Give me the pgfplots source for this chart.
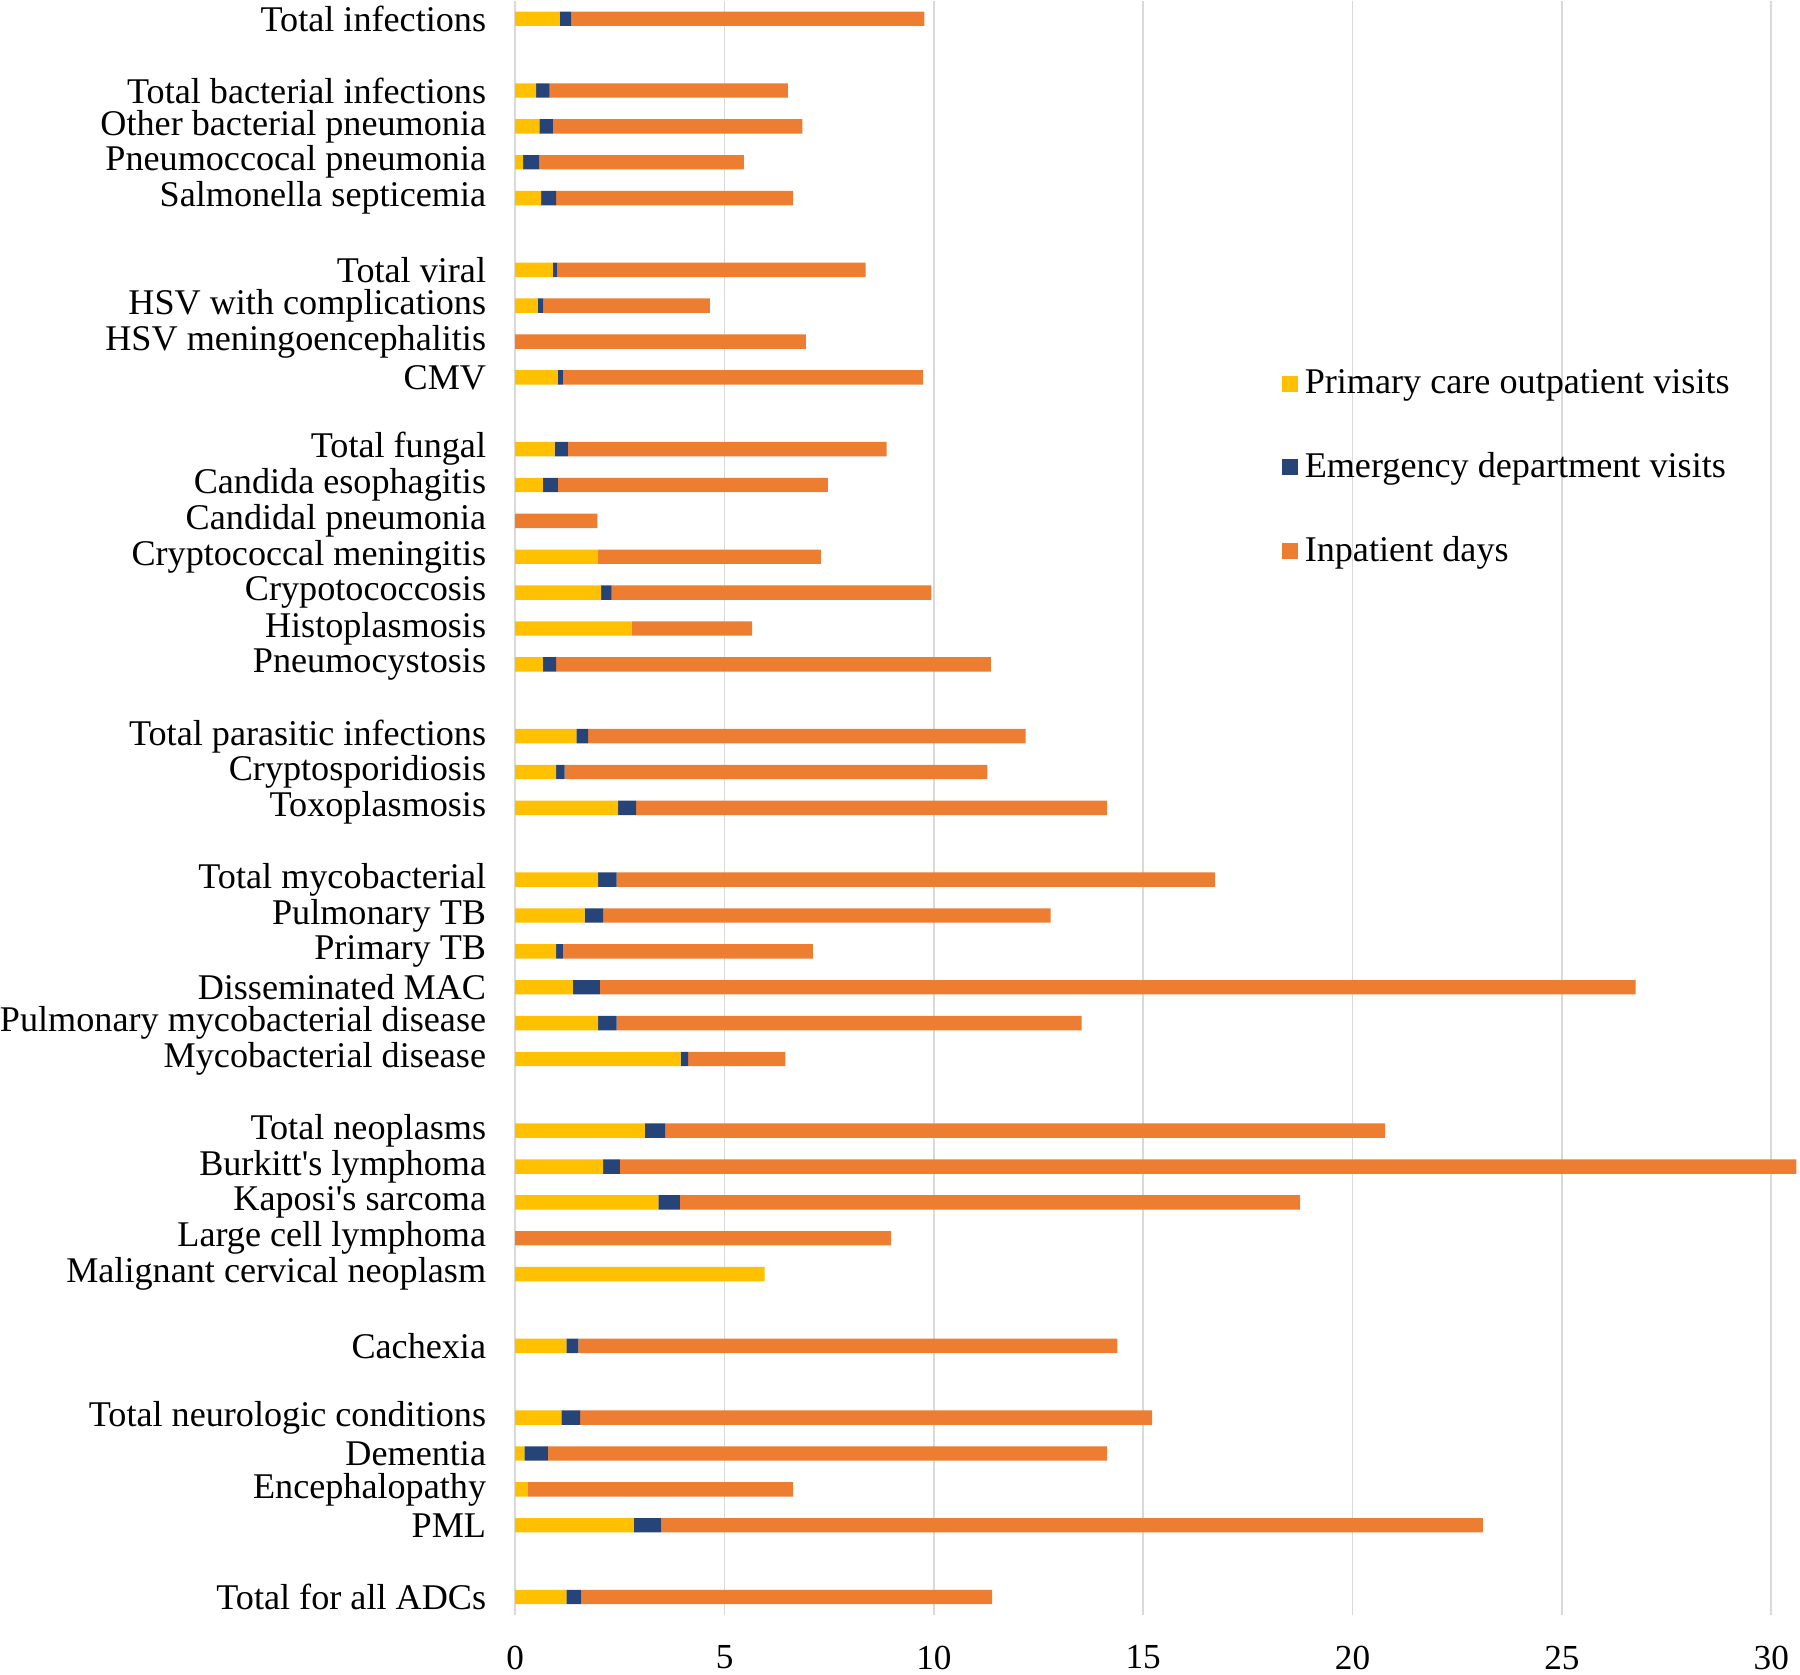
\documentclass[border=0pt]{standalone}
\usepackage{pgfplots}
\pgfplotsset{compat=1.18}
\usepackage{pgfplotstable}
\usepackage{fontspec}
\setmainfont{Liberation Serif}
\definecolor{cpc}{HTML}{FFC000}
\definecolor{ced}{HTML}{264478}
\definecolor{cip}{HTML}{ED7D31}
\pgfplotstableread{
y pc ed ip
44 1.06 0.28 8.43
42 0.50 0.32 5.69
41 0.58 0.32 5.96
40 0.19 0.39 4.88
39 0.62 0.36 5.66
37 0.90 0.11 7.36
36 0.54 0.13 3.98
35 0 0 6.94
34 1.02 0.12 8.60
32 0.94 0.32 7.61
31 0.66 0.36 6.45
30 0 0 1.96
29 1.98 0 5.32
28 2.05 0.25 7.64
27 2.78 0 2.88
26 0.66 0.32 10.38
24 1.46 0.28 10.45
23 0.98 0.20 10.10
22 2.46 0.43 11.25
20 1.98 0.44 14.30
19 1.66 0.44 10.69
18 0.98 0.16 5.97
17 1.38 0.64 24.74
16 1.98 0.44 11.11
15 3.95 0.18 2.32
13 3.10 0.48 17.20
12 2.10 0.40 28.10
11 3.42 0.51 14.82
10 0 0 8.98
9 5.96 0 0
7 1.22 0.29 12.87
5 1.10 0.45 13.66
4 0.22 0.56 13.36
3 0.30 0 6.34
2 2.83 0.66 19.62
0 1.22 0.36 9.81
}\datatable
\begin{document}
\begin{tikzpicture}
\begin{axis}[
  scale only axis,
  width=383.2pt, height=482pt,
  xbar stacked,
  bar width=4.3pt,
  xmin=0, xmax=30.65,
  ymin=-0.5, ymax=44.5,
  axis line style={draw=none},
  xmajorgrids, grid style={gray!30, line width=0.5pt},
  extra x ticks={0}, extra x tick labels={},
  extra x tick style={grid=major},
  xtick={0,5,...,30},
  major tick length=0pt,
  /pgf/number format/assume math mode=true,
  xticklabel style={font=\fontsize{10.5}{12}\selectfont, inner ysep=1.5pt, yshift=-7.5pt},
  ytick={0,2,3,4,5,7,9,10,11,12,13,15,16,17,18,19,20,22,23,24,26,27,28,29,30,31,32,34,35,36,37,39,40,41,42,44},
  yticklabels={Total for all ADCs, PML, Encephalopathy, Dementia, Total neurologic conditions, Cachexia, Malignant cervical neoplasm\hspace{3pt}, Large cell lymphoma, Kaposi\textquotesingle s sarcoma, Burkitt\textquotesingle s lymphoma, Total neoplasms, Mycobacterial disease, Pulmonary mycobacterial disease, Disseminated MAC, Primary TB, Pulmonary TB, Total mycobacterial\hspace{3pt}, Toxoplasmosis, Cryptosporidiosis, Total parasitic infections, Pneumocystosis, Histoplasmosis, Crypotococcosis, Cryptococcal meningitis, Candidal pneumonia, Candida esophagitis, Total fungal, CMV, HSV meningoencephalitis, HSV with complications, Total viral, Salmonella septicemia, Pneumoccocal pneumonia, Other bacterial pneumonia, Total bacterial infections, Total infections},
  yticklabel style={font=\fontsize{10.8}{12}\selectfont, inner xsep=0pt, inner ysep=0pt, xshift=-8.5pt},
  legend style={draw=none, fill=none, at={(0.597,0.776)}, anchor=north west,
    font=\fontsize{10.8}{12}\selectfont, row sep=12pt, inner sep=0pt,
    legend cell align=left},
  legend image code/.code={\fill[#1] (0pt,-2.4pt) rectangle (4.8pt,2.4pt);},
]
\addplot[fill=cpc, draw=none] table[x=pc, y=y] {\datatable};
\addplot[fill=ced, draw=none] table[x=ed, y=y] {\datatable};
\addplot[fill=cip, draw=none] table[x=ip, y=y] {\datatable};
\legend{Primary care outpatient visits, Emergency department visits, Inpatient days}
\end{axis}
\end{tikzpicture}
\end{document}
